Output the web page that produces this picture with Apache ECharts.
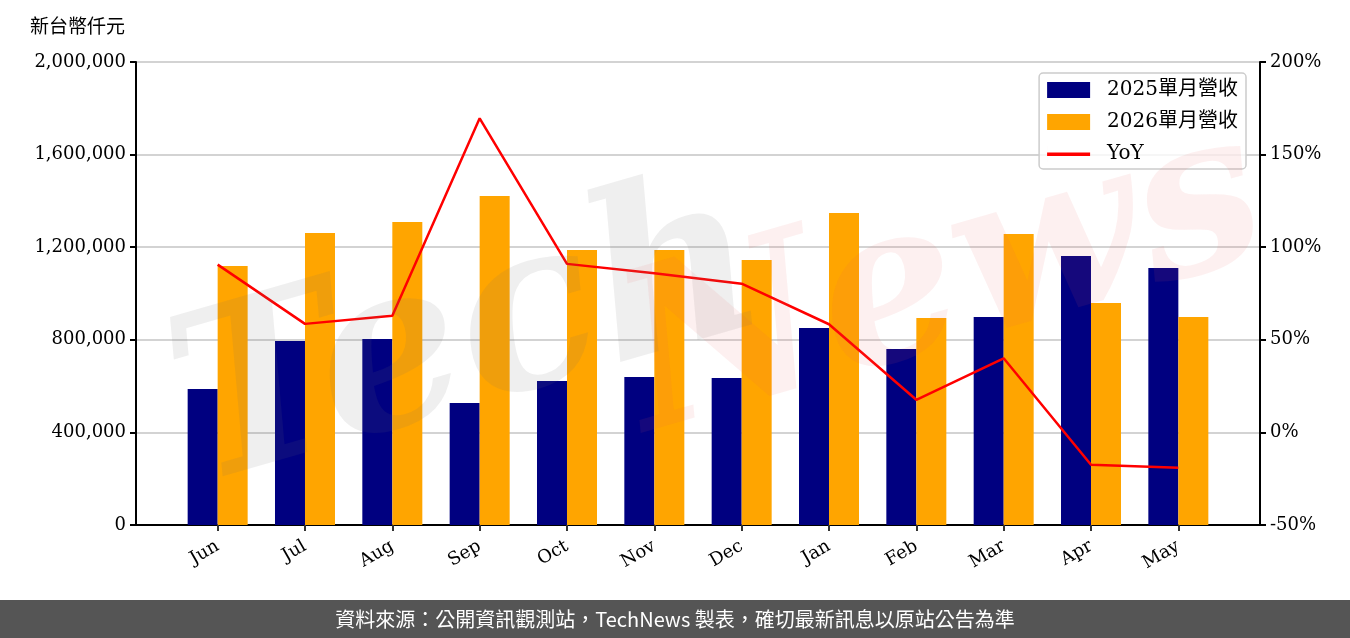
<!DOCTYPE html>
<html>
<head>
<meta charset="utf-8">
<script src="https://cdn.jsdelivr.net/npm/echarts@6/dist/echarts.min.js"></script>
<style>
  html, body { margin: 0; padding: 0; background: #fff; }
  #main { width: 1350px; height: 638px; }
</style>
</head>
<body>
<div id="main"></div>
<script>
// 月份
var months = ['Jun', 'Jul', 'Aug', 'Sep', 'Oct', 'Nov', 'Dec', 'Jan', 'Feb', 'Mar', 'Apr', 'May'];
// 單月營收 (新台幣仟元)
var rev2025 = [587000, 795000, 803000, 527000, 622000, 639000, 635000, 851000, 760000, 898000, 1162000, 1110000];
var rev2026 = [1119000, 1261000, 1309000, 1421000, 1188000, 1188000, 1145000, 1348000, 894000, 1257000, 959000, 898000];
// YoY (%)
var yoy = [90.6, 58.6, 63.0, 169.6, 91.0, 85.9, 80.3, 58.4, 17.6, 40.0, -17.5, -19.1];

var serif = "'DejaVu Serif', 'Noto Sans CJK TC', serif";
var idx = months.map(function (m, i) { return i; });

var chart = echarts.init(document.getElementById('main'));
var option = {
  animation: false,
  grid: { left: 136, right: 90, top: 62, bottom: 113, show: true, borderColor: '#000', borderWidth: 2 },
  legend: {
    orient: 'vertical', right: 104, top: 73,
    itemWidth: 43, itemHeight: 16, itemGap: 12,
    padding: [7, 8, 5, 8],
    borderColor: '#cccccc', borderWidth: 1.5, borderRadius: 4,
    backgroundColor: 'rgba(255,255,255,0.8)',
    textStyle: { fontFamily: serif, fontSize: 20, color: '#000', padding: [0, 0, 0, 12] },
    data: [
      { name: '2025單月營收', icon: 'rect' },
      { name: '2026單月營收', icon: 'rect' },
      { name: 'YoY', icon: 'path://M0,6.5h43v3.5h-43z M0,0h0.01v16h-0.01z' }
    ]
  },
  xAxis: {
    type: 'value', min: -0.935, max: 11.935,
    axisLine: { onZero: false, lineStyle: { color: '#000', width: 2 } },
    axisTick: { show: true, length: 6, customValues: idx, lineStyle: { color: '#333', width: 2 } },
    axisLabel: {
      customValues: idx, rotate: 30, margin: 20,
      fontFamily: serif, fontSize: 18, color: '#000',
      formatter: function (v) { return months[Math.round(v)]; }
    },
    splitLine: { show: false }
  },
  yAxis: [{
    type: 'value', min: 0, max: 2000000, interval: 400000,
    axisLine: { show: true, onZero: false, lineStyle: { color: '#000', width: 2 } },
    axisTick: { show: true, length: 6, lineStyle: { color: '#000', width: 2 } },
    axisLabel: {
      fontFamily: serif, fontSize: 18, color: '#000', margin: 10,
      formatter: function (v) { return v.toLocaleString('en-US'); }
    },
    splitLine: { lineStyle: { color: '#d3d3d3', width: 2 } }
  }, {
    type: 'value', min: -50, max: 200, interval: 50,
    axisLine: { show: true, onZero: false, lineStyle: { color: '#000', width: 2 } },
    axisTick: { show: true, length: 6, lineStyle: { color: '#000', width: 2 } },
    axisLabel: { fontFamily: serif, fontSize: 18, color: '#000', margin: 10, formatter: '{value}%' },
    splitLine: { show: false }
  }],
  series: [{
    name: '2025單月營收', type: 'bar', barWidth: 30, barGap: '0%',
    itemStyle: { color: '#000080' },
    data: rev2025.map(function (v, i) { return [i, v]; })
  }, {
    name: '2026單月營收', type: 'bar', barWidth: 30, barGap: '0%',
    itemStyle: { color: '#FFA500' },
    data: rev2026.map(function (v, i) { return [i, v]; })
  }, {
    name: 'YoY', type: 'line', yAxisIndex: 1, symbol: 'none', z: 5,
    lineStyle: { color: '#ff0000', width: 2.5 }, itemStyle: { color: '#ff0000' },
    data: yoy.map(function (v, i) { return [i, v]; })
  }],
  graphic: [
    // 浮水印
    { type: 'text', left: 150, top: 150, rotation: 0.28, z: 10, silent: true,
      style: { text: 'Tech', font: "italic bold 230px 'DejaVu Serif'", fill: 'rgba(110,110,110,0.11)' } },
    { type: 'text', left: 600, top: 90, rotation: 0.28, z: 10, silent: true,
      style: { text: 'News', font: "italic bold 220px 'DejaVu Serif'", fill: 'rgba(230,90,90,0.09)' } },
    { type: 'text', left: 30, top: 16,
      style: { text: '新台幣仟元', font: "19px 'Noto Sans CJK TC'", fill: '#000' } },
    { type: 'rect', left: 0, top: 600, shape: { width: 1350, height: 38 }, style: { fill: '#555555' } },
    { type: 'text', x: 675, y: 619,
      style: { text: '資料來源：公開資訊觀測站，TechNews 製表，確切最新訊息以原站公告為準',
        font: "20px 'Noto Sans CJK TC'", fill: '#ffffff', align: 'center', verticalAlign: 'middle' } }
  ]
};
chart.setOption(option);
</script>
</body>
</html>
